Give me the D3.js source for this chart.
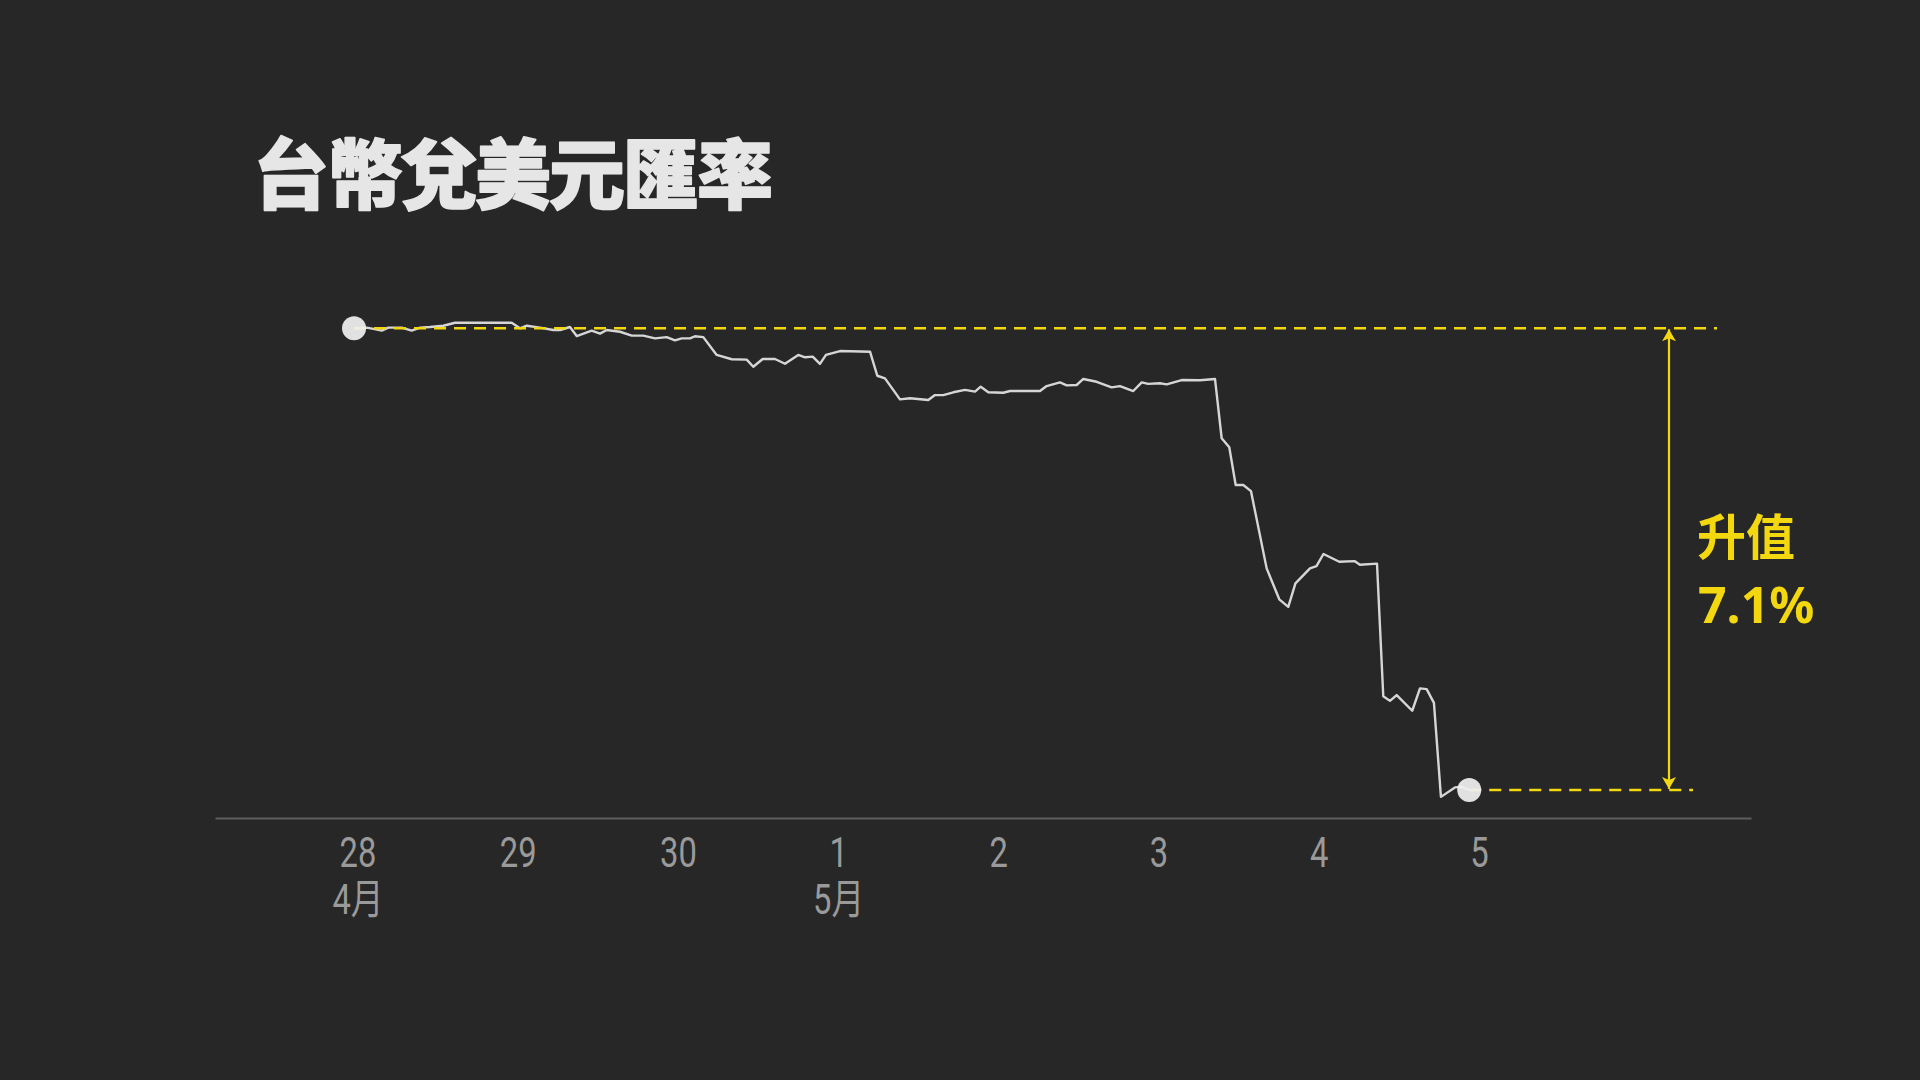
<!DOCTYPE html>
<html>
<head>
<meta charset="utf-8">
<script src="https://cdn.jsdelivr.net/npm/d3@7"></script>
<style>
  html, body { margin: 0; padding: 0; background: #272727; }
  svg { display: block; }
</style>
</head>
<body>
<svg id="chart" width="1920" height="1080"></svg>
<script>
// Hours since 28 Apr 00:00 (approx.)
const hours = [-0.52,1.38,2.37,3.63,4.61,6.62,8.12,9.36,10.86,12.85,14.61,23.10,24.34,25.35,27.34,29.33,30.34,31.83,32.84,35.08,36.33,37.33,39.32,41.08,42.81,44.57,46.32,47.56,48.57,49.81,50.56,51.80,53.81,56.06,58.30,59.29,60.70,62.54,64.04,66.03,67.04,68.19,69.28,70.18,72.28,76.78,77.87,79.02,81.27,82.77,85.51,86.51,87.76,89.26,91.01,92.51,93.36,94.50,96.74,97.75,102.24,103.24,105.24,106.24,107.74,108.73,110.73,112.98,114.22,116.22,117.48,118.46,120.21,121.22,123.47,126.21,128.46,129.46,130.60,131.56,132.70,133.85,136.20,138.09,139.44,140.51,142.69,143.66,144.71,147.08,149.36,150.17,152.73,153.67,154.67,155.68,158.01,159.17,160.17,161.26,162.31,164.41,165.41,166.55];
// USD/TWD rate
const rates = [32.450,32.453,32.447,32.439,32.453,32.453,32.439,32.453,32.456,32.462,32.476,32.476,32.450,32.462,32.453,32.442,32.442,32.456,32.414,32.439,32.425,32.442,32.434,32.416,32.416,32.403,32.409,32.394,32.403,32.403,32.413,32.409,32.326,32.306,32.304,32.271,32.307,32.307,32.285,32.326,32.315,32.318,32.284,32.326,32.344,32.341,32.229,32.217,32.119,32.124,32.116,32.139,32.139,32.152,32.163,32.155,32.178,32.152,32.150,32.158,32.158,32.181,32.198,32.184,32.186,32.214,32.201,32.175,32.181,32.158,32.198,32.191,32.194,32.189,32.209,32.208,32.214,31.938,31.896,31.720,31.720,31.692,31.332,31.188,31.153,31.262,31.332,31.343,31.399,31.363,31.366,31.349,31.354,30.737,30.715,30.742,30.669,30.773,30.770,30.706,30.268,30.312,30.315,30.300];

const tickHours = [0, 24, 48, 72, 96, 120, 144, 168];
const dayLabels = ["28", "29", "30", "1", "2", "3", "4", "5"];
const monthLabels = ["4月", "", "", "5月", "", "", "", ""];

const title = "台幣兌美元匯率";
const noteLines = ["升值", "7.1%"];

const data = hours.map((h, i) => ({ h: h, v: rates[i] }));
const first = data[0], last = data[data.length - 1];

const svg = d3.select("#chart");
const YELLOW = "#f3d70f";

const x = d3.scaleLinear().domain([-21.35, 208.76]).range([215, 1751]);
const y = d3.scaleLinear().domain([30.30, 32.45]).range([790, 328.3]);

// Title
svg.append("text")
  .attr("x", 253).attr("y", 203)
  .attr("font-family", "'Noto Sans CJK TC', 'Noto Sans CJK SC', sans-serif")
  .attr("font-weight", 900)
  .attr("font-size", 76)
  .attr("letter-spacing", -2)
  .attr("fill", "#e6e6e6")
  .attr("stroke", "#e6e6e6")
  .attr("stroke-width", 1.6)
  .attr("stroke-linejoin", "round")
  .text(title);

// Axis
const axis = d3.axisBottom(x)
  .tickValues(tickHours)
  .tickSize(0)
  .tickSizeOuter(0)
  .tickFormat((d, i) => dayLabels[i]);

const gx = svg.append("g").attr("transform", "translate(0,818)").call(axis);
gx.select(".domain").attr("stroke", "#5e5e5e").attr("stroke-width", 2);
gx.selectAll(".tick text")
  .attr("y", 49).attr("dy", 0)
  .attr("transform", "scale(0.78,1)")
  .attr("font-family", "Roboto, 'Noto Sans CJK TC', sans-serif")
  .attr("font-size", 42)
  .attr("fill", "#9a9a9a");
gx.selectAll(".tick").each(function (d, i) {
  if (monthLabels[i]) {
    d3.select(this).append("text")
      .attr("y", 96)
      .attr("text-anchor", "middle")
      .attr("transform", "scale(0.78,1)")
      .attr("font-family", "Roboto, 'Noto Sans CJK TC', sans-serif")
      .attr("font-size", 42)
      .attr("fill", "#9a9a9a")
      .text(monthLabels[i]);
  }
});

// Line
const line = d3.line().x(d => x(d.h)).y(d => y(d.v));
svg.append("path")
  .datum(data)
  .attr("d", line)
  .attr("fill", "none")
  .attr("stroke", "#d6d6d6")
  .attr("stroke-width", 2.4)
  .attr("stroke-linejoin", "round");

// Dashed reference lines
svg.append("line")
  .attr("x1", x(first.h)).attr("x2", 1717)
  .attr("y1", y(first.v)).attr("y2", y(first.v))
  .attr("stroke", YELLOW).attr("stroke-width", 2.6)
  .attr("stroke-dasharray", "12,8");
svg.append("line")
  .attr("x1", x(last.h)).attr("x2", 1693)
  .attr("y1", y(last.v)).attr("y2", y(last.v))
  .attr("stroke", YELLOW).attr("stroke-width", 2.6)
  .attr("stroke-dasharray", "12,8");

// Arrow
const defs = svg.append("defs");
defs.append("marker")
  .attr("id", "arrow")
  .attr("viewBox", "0 0 12 14")
  .attr("refX", 12).attr("refY", 7)
  .attr("markerWidth", 12).attr("markerHeight", 14)
  .attr("markerUnits", "userSpaceOnUse")
  .attr("orient", "auto-start-reverse")
  .append("path")
  .attr("d", "M0,0 L12,7 L0,14 L3,7 Z")
  .attr("fill", YELLOW);

svg.append("line")
  .attr("x1", 1669).attr("x2", 1669)
  .attr("y1", y(first.v) + 1).attr("y2", y(last.v) - 1)
  .attr("stroke", YELLOW).attr("stroke-width", 2.2)
  .attr("marker-start", "url(#arrow)")
  .attr("marker-end", "url(#arrow)");

// End point circles
svg.selectAll("circle.pt")
  .data([first, last])
  .join("circle")
  .attr("class", "pt")
  .attr("cx", d => x(d.h)).attr("cy", d => y(d.v))
  .attr("r", 12)
  .attr("fill", "#f0f0f0")
  .attr("fill-opacity", 0.93);

// Annotation
svg.append("text")
  .attr("x", 1697).attr("y", 555)
  .attr("font-family", "'Noto Sans CJK TC', 'Noto Sans', sans-serif")
  .attr("font-weight", 700)
  .attr("font-size", 49)
  .attr("fill", YELLOW)
  .text(noteLines[0]);
svg.append("text")
  .attr("x", 1698).attr("y", 623)
  .attr("font-family", "'Noto Sans', sans-serif")
  .attr("font-weight", 700)
  .attr("font-size", 50)
  .attr("fill", YELLOW)
  .text(noteLines[1]);
</script>
</body>
</html>
